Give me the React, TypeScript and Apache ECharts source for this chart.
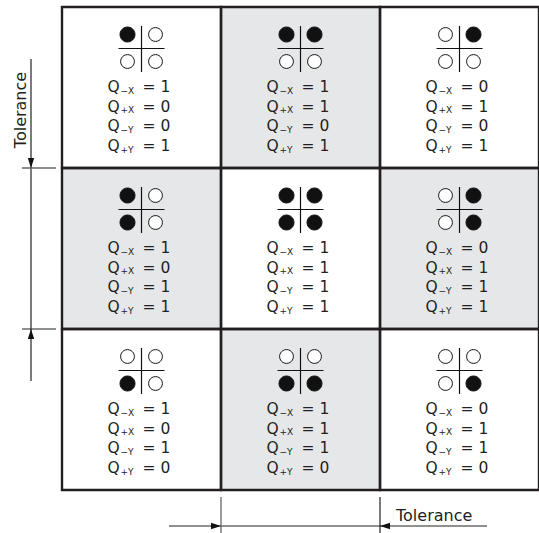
import React, { useEffect, useRef } from "react";
import * as echarts from "echarts";

// Cell layout (column, row) of the 3 x 3 grid
const cellCol = [0, 1, 2, 0, 1, 2, 0, 1, 2];
const cellRow = [0, 0, 0, 1, 1, 1, 2, 2, 2];
// Shaded cells (1 = grey background)
const shaded = [0, 1, 0, 1, 0, 1, 0, 1, 0];
// Output values per cell
const qMinusX = [1, 1, 0, 1, 1, 0, 1, 1, 0];
const qPlusX = [0, 1, 1, 0, 1, 1, 0, 1, 1];
const qMinusY = [0, 0, 0, 1, 1, 1, 1, 1, 1];
const qPlusY = [1, 1, 1, 1, 1, 1, 0, 0, 0];
// Quadrant dots per cell: [top-left, top-right, bottom-left, bottom-right], 1 = filled
const dotsTL = [1, 1, 0, 1, 1, 0, 0, 0, 0];
const dotsTR = [0, 1, 1, 0, 1, 1, 0, 0, 0];
const dotsBL = [0, 0, 0, 1, 1, 0, 1, 1, 0];
const dotsBR = [0, 0, 0, 0, 1, 1, 0, 1, 1];
// Subscript labels of the four outputs
const qSubs = ["\u2212X", "+X", "\u2212Y", "+Y"];
const dimLabel = "Tolerance";

const FONT = "DejaVu Sans";
const INK = "#231f20";

export default function App() {
  const ref = useRef<HTMLDivElement>(null);
  useEffect(() => {
    const chart = echarts.init(ref.current!, undefined, { renderer: "svg" });
    const cellData = cellCol.map((c, i) => [c, cellRow[i], shaded[i]]);

    const renderCell = (params: any, api: any) => {
      const i = params.dataIndex;
      const c = api.value(0);
      const r = api.value(1);
      const p0 = api.coord([c, r]);
      const p1 = api.coord([c + 1, r + 1]);
      const x0 = p0[0];
      const y0 = p0[1];
      const w = p1[0] - p0[0];
      const h = p1[1] - p0[1];
      const cx = x0 + w / 2;
      const children: any[] = [];
      children.push({
        type: "rect",
        shape: { x: x0, y: y0, width: w, height: h },
        style: { fill: api.value(2) ? "#e6e7e8" : "#ffffff" },
        z2: 0,
      });
      children.push({
        type: "rect",
        shape: { x: x0, y: y0, width: w, height: h },
        style: { fill: "none", stroke: INK, lineWidth: 2.4 },
        z2: 20,
      });
      // cross
      const cy = y0 + 41.5;
      children.push({
        type: "line",
        shape: { x1: cx - 23, y1: cy, x2: cx + 23, y2: cy },
        style: { stroke: "#111", lineWidth: 1.2 },
        z2: 5,
      });
      children.push({
        type: "line",
        shape: { x1: cx, y1: y0 + 19, x2: cx, y2: y0 + 65 },
        style: { stroke: "#111", lineWidth: 1.2 },
        z2: 5,
      });
      const dots = [
        [cx - 14, y0 + 27.5, dotsTL[i]],
        [cx + 14, y0 + 27.5, dotsTR[i]],
        [cx - 14, y0 + 54.5, dotsBL[i]],
        [cx + 14, y0 + 54.5, dotsBR[i]],
      ];
      dots.forEach((d) => {
        children.push({
          type: "circle",
          shape: { cx: d[0], cy: d[1], r: d[2] ? 7.5 : 6.9 },
          style: { fill: d[2] ? "#111" : "#fff", stroke: "#111", lineWidth: 1 },
          z2: 6,
        });
      });
      const vals = [qMinusX[i], qPlusX[i], qMinusY[i], qPlusY[i]];
      vals.forEach((v, k) => {
        const ty = y0 + 80 + k * 19.7;
        children.push({
          type: "text",
          style: {
            text: "Q",
            x: cx - 34,
            y: ty,
            align: "left",
            verticalAlign: "middle",
            fontFamily: FONT,
            fontSize: 15.5,
            fill: INK,
          },
          z2: 6,
        });
        children.push({
          type: "text",
          style: {
            text: qSubs[k],
            x: cx - 21,
            y: ty + 3.6,
            align: "left",
            verticalAlign: "middle",
            fontFamily: FONT,
            fontSize: 9,
            fill: INK,
          },
          z2: 6,
        });
        children.push({
          type: "text",
          style: {
            text: "= " + v,
            x: cx + 1,
            y: ty,
            align: "left",
            verticalAlign: "middle",
            fontFamily: FONT,
            fontSize: 15.5,
            fill: INK,
          },
          z2: 6,
        });
      });
      return { type: "group", children };
    };

    const renderDims = (params: any, api: any) => {
      const g00 = api.coord([0, 0]);
      const g01 = api.coord([0, 1]);
      const g02 = api.coord([0, 2]);
      const g13 = api.coord([1, 3]);
      const g23 = api.coord([2, 3]);
      const gx = g00[0];
      const y1 = g01[1];
      const y2 = g02[1];
      const lx = gx - 31;
      const gy = g13[1];
      const x1 = g13[0];
      const x2 = g23[0];
      const ly = gy + 36;
      const dark = { stroke: "#222", lineWidth: 1.2 };
      const grey = { stroke: "#666", lineWidth: 1.3 };
      return {
        type: "group",
        children: [
          // left dimension
          { type: "line", shape: { x1: lx, y1: y1 - 109, x2: lx, y2: y2 + 52 }, style: dark },
          { type: "line", shape: { x1: gx - 40, y1: y1, x2: gx - 6, y2: y1 }, style: grey },
          { type: "line", shape: { x1: gx - 40, y1: y2, x2: gx - 6, y2: y2 }, style: dark },
          {
            type: "polygon",
            shape: { points: [[lx, y1], [lx - 3.2, y1 - 10], [lx + 3.2, y1 - 10]] },
            style: { fill: "#111" },
          },
          {
            type: "polygon",
            shape: { points: [[lx, y2], [lx - 3.2, y2 + 10], [lx + 3.2, y2 + 10]] },
            style: { fill: "#111" },
          },
          {
            type: "text",
            x: gx - 42,
            y: y1 - 58,
            rotation: Math.PI / 2,
            style: {
              text: dimLabel,
              x: 0,
              y: 0,
              align: "center",
              verticalAlign: "middle",
              fontFamily: FONT,
              fontSize: 16,
              fill: INK,
            },
          },
          // bottom dimension
          { type: "line", shape: { x1: x1 - 52, y1: ly, x2: x2 + 107, y2: ly }, style: dark },
          { type: "line", shape: { x1: x1, y1: gy + 7, x2: x1, y2: gy + 45 }, style: grey },
          { type: "line", shape: { x1: x2, y1: gy + 7, x2: x2, y2: gy + 45 }, style: dark },
          {
            type: "polygon",
            shape: { points: [[x1, ly], [x1 - 10, ly - 3.2], [x1 - 10, ly + 3.2]] },
            style: { fill: "#111" },
          },
          {
            type: "polygon",
            shape: { points: [[x2, ly], [x2 + 10, ly - 3.2], [x2 + 10, ly + 3.2]] },
            style: { fill: "#111" },
          },
          {
            type: "text",
            style: {
              text: dimLabel,
              x: x2 + 16,
              y: ly - 11,
              align: "left",
              verticalAlign: "middle",
              fontFamily: FONT,
              fontSize: 16,
              fill: INK,
            },
          },
        ],
      };
    };

    chart.setOption({
      animation: false,
      backgroundColor: "#ffffff",
      grid: { left: 62, top: 7, width: 482, height: 483 },
      xAxis: { type: "value", min: 0, max: 3, show: false },
      yAxis: { type: "value", min: 0, max: 3, inverse: true, show: false },
      series: [
        {
          type: "custom",
          clip: false,
          renderItem: renderCell,
          data: cellData,
          encode: { x: 0, y: 1 },
          silent: true,
        },
        {
          type: "custom",
          clip: false,
          renderItem: renderDims,
          data: [[0, 0]],
          encode: { x: 0, y: 1 },
          silent: true,
        },
      ],
    });
    return () => chart.dispose();
  }, []);
  return (
    <div
      ref={ref}
      style={{ position: "fixed", left: 0, top: 0, width: 539, height: 533 }}
    />
  );
}
